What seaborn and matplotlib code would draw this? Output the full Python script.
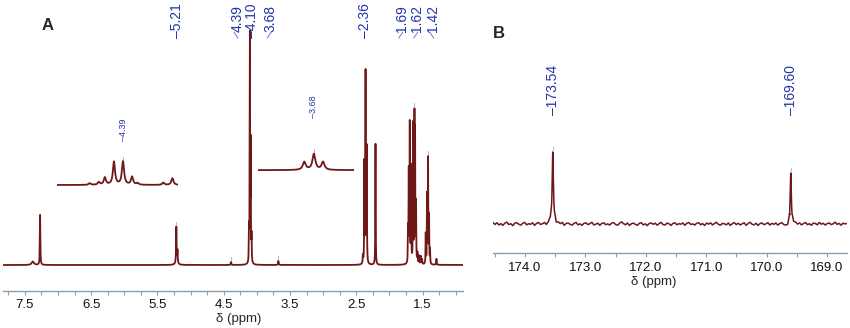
import numpy as np
import pandas as pd
import matplotlib
matplotlib.use("Agg")
import matplotlib.pyplot as plt
import seaborn as sns
from matplotlib.ticker import MultipleLocator, FixedLocator

sns.set_theme(style="white")
plt.rcParams['font.family'] = ['Liberation Sans', 'DejaVu Sans']

# ---------------- data ----------------
# Panel A: 1H NMR lines (ppm, intensity, half width)
a_ppm = [7.38, 7.27, 5.21, 5.215, 5.197, 4.39, 4.118, 4.105, 4.093, 4.080, 3.675,
         2.40, 2.378, 2.36, 2.342, 2.21,
         1.719, 1.708, 1.693, 1.673, 1.643, 1.622, 1.613, 1.598,
         1.577, 1.553, 1.527, 1.507,
         1.452, 1.432, 1.417, 1.402, 1.387, 1.29]
a_int = [3.5, 50, 3, 35, 12, 3, 30, 232, 115, 25, 4,
         8, 100, 190, 115, 121,
         33, 90, 138, 95, 138, 140, 122, 58,
         10, 8, 8, 5,
         30, 68, 104, 47, 14, 6]
a_hw = [0.02, 0.004, 0.02, 0.004, 0.004, 0.005, 0.003, 0.003, 0.003, 0.003, 0.005,
        0.004, 0.003, 0.003, 0.003, 0.003,
        0.003, 0.003, 0.003, 0.003, 0.003, 0.003, 0.003, 0.003,
        0.004, 0.004, 0.004, 0.004,
        0.003, 0.003, 0.003, 0.003, 0.003, 0.004]

# Inset 1 (expansion around 4.39)
i1_ppm = [4.455, 4.437, 4.425, 4.407, 4.389, 4.371, 4.360, 4.309, 4.291]
i1_int = [1.7, 2.7, 7.3, 23.0, 23.5, 8.0, 1.7, 2.3, 6.7]
i1_hw = [0.0025] * 9
# Inset 2 (expansion around 3.68)
i2_ppm = [3.698, 3.679, 3.661]
i2_int = [8, 16, 8]
i2_hw = [0.0035, 0.0035, 0.0035]

# Panel A peak labels
a_lab_text = ["5.21", "4.39", "4.10", "3.68", "2.36", "1.69", "1.62", "1.42"]
a_lab_x = [5.212, 4.295, 4.066, 3.794, 2.372, 1.809, 1.583, 1.342]
a_lab_conn = ['', '\\', '', '/', '', '/', '/', '\\']
a_ticks = [7.5, 6.5, 5.5, 4.5, 3.5, 2.5, 1.5]

# Panel B: 13C lines
b_ppm = [173.54, 169.60]
b_int = [72, 51]
b_hw = [0.012, 0.010]
b_lab_text = ["173.54", "169.60"]
b_ticks = [174.0, 173.0, 172.0, 171.0, 170.0, 169.0]
b_noise = [1.5, -0.5, 1.2, -1.0, 0.4, -1.4, 0.9, 1.8, -0.6, 0.3, -1.7, 0.8, 1.3, -0.2, -1.2, 0.6, 1.6, -0.9, 0.2, -0.4,
           1.1, -1.5, 0.5, 1.4, -0.7, -0.1, 1.0, -1.3, 0.7, 1.9, -0.8, 0.2, -1.1, 0.9, -0.3, 1.2, -1.6, 0.4, 0.8, -0.5,
           -1.2, 0.6, 1.5, -0.9, 0.1, -1.4, 0.7, 1.1, -0.6, 0.3, 1.7, -1.0, -0.2, 0.8, -1.3, 0.5, 1.2, -0.7, 0.1, -1.1,
           0.9, 1.4, -0.5, -1.2, 0.6, 2.2, 0.4, -0.8, 1.0, -1.5, 0.3, 0.9, -0.4, -1.3, 0.7, 1.3, -0.9, 0.2, -1.6, 0.5,
           1.1, -0.3, 0.8, -1.2, 0.4, 1.6, -0.6, -1.0, 0.9, 0.2, -1.4, 0.6, 1.2, -0.8, 0.3, -0.2, 1.0, -1.3, 0.7, 1.5,
           -0.5, 0.1, -1.1, 0.8, 1.3, -0.7, 0.4, -1.5, 0.9, -0.1, 1.1, -0.9, 0.5, 1.7, -0.4, -1.2, 0.6, 0.2, -0.8, 1.0,
           -1.4, 0.3, 1.4, -0.6, 0.8, -1.0, 0.2, 1.2, -1.3, 0.5, 1.8, -0.3, -0.9, 0.7, -1.5, 0.4, 1.0, -0.7, 0.1, 1.3,
           -1.1, 0.6, -0.4, 0.9, -1.2, 0.3, 1.1, -0.8, -1.8, -2.2, -1.6, -0.6, 0.4, 1.2, -0.5, 0.8, -1.0, 0.3, 1.4, -0.7,
           0.2, -1.3, 0.9, 0.5, -0.9, 1.6, -0.2, 0.7, -1.1, 0.4, 1.0, -0.6, 0.2, 1.9, -0.4, 0.6, -1.2, 0.8, 0.1, 0.5]

# ---------------- helpers ----------------
LINE = "#6e1818"
LAB = "#2233a8"
AXC = "#8aa0b0"
MARK = "#b0bcd8"


def lorentz(x, ppm, inten, hw):
    y = np.zeros_like(x)
    for p, h, w in zip(ppm, inten, hw):
        y += h * w ** 2 / ((x - p) ** 2 + w ** 2)
    return y


def spectrum_df(lo, hi, n, ppm, inten, hw):
    x = np.sort(np.concatenate([np.linspace(lo, hi, n), np.array(ppm, float)]))
    return pd.DataFrame({"ppm": x, "I": lorentz(x, ppm, inten, hw)})


def style_axis(ax, color=AXC):
    for s in ["top", "left", "right"]:
        ax.spines[s].set_visible(False)
    ax.spines["bottom"].set_color(color)
    ax.spines["bottom"].set_linewidth(1.0)
    ax.set_yticks([])
    ax.set_ylabel("")
    ax.tick_params(axis="x", which="both", direction="out", length=3, width=0.8,
                   color=color, labelsize=9.5, labelcolor="#111111", pad=3, bottom=True)


def inset_clean(ax):
    ax.set_xlabel("")
    ax.set_ylabel("")
    ax.set_xticks([])
    ax.set_yticks([])
    ax.axis("off")


fig = plt.figure(figsize=(8.5, 3.28), dpi=100)
W, H = 850.0, 328.0
LW = 1.3

# ---------------- Panel A ----------------
axA = fig.add_axes([3 / W, (H - 291) / H, 460 / W, 261 / H])
dfA = spectrum_df(0.85, 7.9, 16000, a_ppm, a_int, a_hw)
sns.lineplot(data=dfA, x="ppm", y="I", ax=axA, color=LINE, lw=LW, estimator=None, sort=False, legend=False)
axA.set_xlim(7.83, 0.89)
axA.set_ylim(-26, 235)
style_axis(axA)
axA.xaxis.set_major_locator(FixedLocator(a_ticks))
axA.xaxis.set_minor_locator(MultipleLocator(0.25))
axA.set_xticklabels([f"{t:.1f}" for t in a_ticks])
axA.set_xlabel("δ (ppm)", fontsize=9.5, labelpad=0)
axA.xaxis.set_label_coords(0.513, -0.085)

tA = axA.get_xaxis_transform()
for txt, xl, cn in zip(a_lab_text, a_lab_x, a_lab_conn):
    if cn == '':
        axA.text(xl, 0.969, "\u2013" + txt, rotation=90, ha="center", va="bottom",
                 color=LAB, fontsize=10, transform=tA, clip_on=False)
    else:
        axA.text(xl, 0.992, txt, rotation=90, ha="center", va="bottom",
                 color=LAB, fontsize=10, transform=tA, clip_on=False)
        d = 0.03
        xs = [xl + d, xl - d] if cn == '\\' else [xl - d, xl + d]
        xs = [v + 0.02 for v in xs]
        axA.plot(xs, [0.992, 0.969], color="#7f8fcf", lw=0.8, transform=tA, clip_on=False)

# peak-top marks
for p in [5.215, 4.39, 3.675, 1.622, 1.417]:
    h = lorentz(np.array([p]), a_ppm, a_int, a_hw)[0]
    axA.plot([p, p], [h + 2, h + 5], color=MARK, lw=0.8)

# Inset 1
in1 = axA.inset_axes([0.1174, 0.387, 0.263, 0.134])
df1 = spectrum_df(4.28, 4.52, 3000, i1_ppm, i1_int, i1_hw)
sns.lineplot(data=df1, x="ppm", y="I", ax=in1, color=LINE, lw=LW, estimator=None, sort=False, legend=False)
in1.set_xlim(4.52, 4.28)
in1.set_ylim(-5, 30)
inset_clean(in1)
in1.plot([4.389, 4.389], [25.5, 28.5], color=MARK, lw=0.8)
in1.text(4.389, 44, "\u20134.39", rotation=90, ha="center", va="bottom", color=LAB,
         fontsize=6.5, clip_on=False)

# Inset 2
in2 = axA.inset_axes([0.554, 0.444, 0.2087, 0.134])
df2 = spectrum_df(3.60, 3.79, 3000, i2_ppm, i2_int, i2_hw)
sns.lineplot(data=df2, x="ppm", y="I", ax=in2, color=LINE, lw=LW, estimator=None, sort=False, legend=False)
in2.set_xlim(3.79, 3.60)
in2.set_ylim(-5, 30)
inset_clean(in2)
in2.plot([3.679, 3.679], [18.5, 21.5], color=MARK, lw=0.8)
in2.text(3.679, 52, "\u20133.68", rotation=90, ha="center", va="bottom", color=LAB,
         fontsize=6.5, clip_on=False)

# ---------------- Panel B ----------------
axB = fig.add_axes([493 / W, (H - 253.3) / H, 354 / W, 113.3 / H])
xn = np.linspace(174.53, 168.67, len(b_noise))
xd = np.concatenate([np.linspace(p - 0.02, p + 0.02, 161) for p in b_ppm])
xb = np.concatenate([xn, xd])
yb = np.concatenate([np.array(b_noise), np.zeros_like(xd)])
order = np.argsort(xb)
xb, yb = xb[order], yb[order]
dfB = pd.DataFrame({"ppm": xb, "I": yb + lorentz(xb, b_ppm, b_int, b_hw)})
sns.lineplot(data=dfB, x="ppm", y="I", ax=axB, color=LINE, lw=1.1, estimator=None, sort=False, legend=False)
axB.set_xlim(174.53, 168.67)
axB.set_ylim(-29.3, 84)
style_axis(axB)
axB.xaxis.set_major_locator(FixedLocator(b_ticks))
axB.xaxis.set_minor_locator(MultipleLocator(0.5))
axB.set_xticklabels([f"{t:.1f}" for t in b_ticks])
axB.set_xlabel("δ (ppm)", fontsize=9.5, labelpad=0)
axB.xaxis.set_label_coords(0.453, -0.2)

tB = axB.get_xaxis_transform()
for txt, p, h in zip(b_lab_text, b_ppm, b_int):
    axB.text(p, 1.22, "\u2013" + txt, rotation=90, ha="center", va="bottom",
             color=LAB, fontsize=10, transform=tB, clip_on=False)
    axB.plot([p, p], [h + 2, h + 5], color=MARK, lw=0.8)

# panel letters
fig.text(48 / W, 1 - 25 / H, "A", fontsize=12, fontweight="bold", ha="center", va="center")
fig.text(499 / W, 1 - 33 / H, "B", fontsize=12, fontweight="bold", ha="center", va="center")

fig.savefig("out.png", dpi=100)
